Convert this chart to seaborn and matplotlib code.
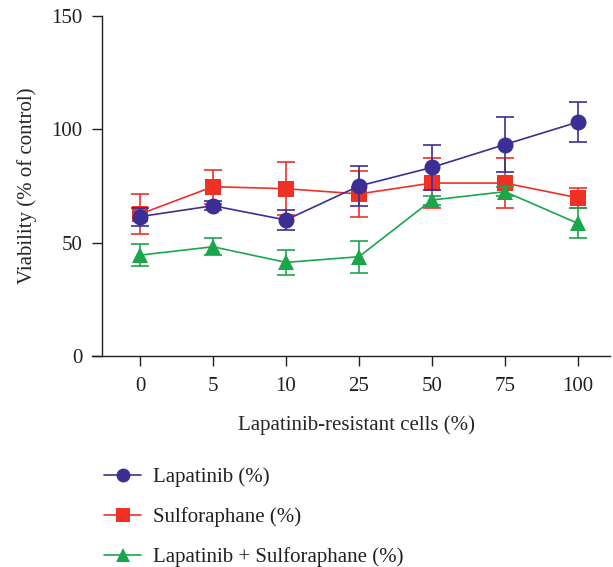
import numpy as np
import pandas as pd
import matplotlib
matplotlib.use("Agg")
import matplotlib.pyplot as plt
import seaborn as sns
from matplotlib.lines import Line2D

# Percentage of lapatinib-resistant cells in the mixed population
cells = ["0", "5", "10", "25", "50", "75", "100"]

# Mean viability (% of control) and error for each treatment
lapatinib = [61.5, 66.3, 60.0, 75.0, 83.2, 93.3, 103.2]
lapatinib_err = [4.0, 2.0, 4.2, 8.7, 10.0, 12.0, 8.7]

sulforaphane = [62.6, 74.7, 73.8, 71.5, 76.3, 76.3, 69.8]
sulforaphane_err = [8.8, 7.5, 11.8, 10.0, 11.0, 11.0, 4.5]

combo = [44.5, 48.2, 41.3, 43.8, 68.8, 72.5, 58.5]
combo_err = [5.0, 3.7, 5.6, 7.0, 2.0, 2.0, 6.6]

series_names = ["Lapatinib (%)", "Sulforaphane (%)", "Lapatinib + Sulforaphane (%)"]
colors = ["#3b2f95", "#ee3124", "#1ba64b"]
markers = ["o", "s", "^"]
msizes = [11.5, 11.5, 12]
zorders = [5, 3, 4]

frames = []
for name, vals, errs in zip(series_names, [lapatinib, sulforaphane, combo],
                            [lapatinib_err, sulforaphane_err, combo_err]):
    frames.append(pd.DataFrame({"pos": np.arange(len(cells)), "cells": cells,
                                "viability": vals, "err": errs, "treatment": name}))
df = pd.concat(frames, ignore_index=True)

sns.set_theme(style="ticks")
plt.rcParams["font.family"] = ["Liberation Serif", "DejaVu Serif"]
plt.rcParams["text.color"] = "#231f20"

FS = 15

fig = plt.figure(figsize=(6.13, 5.67), dpi=100)
ax = fig.add_axes([102 / 613, 1 - 356 / 567, 508 / 613, 340 / 567])

for name, c, m, ms, z in zip(series_names, colors, markers, msizes, zorders):
    sub = df[df["treatment"] == name]
    ax.errorbar(sub["pos"], sub["viability"], yerr=sub["err"], fmt="none",
                ecolor=c, elinewidth=1.2, capsize=6.5, capthick=1.2, zorder=z)
    sns.lineplot(data=sub, x="pos", y="viability", color=c, marker=m,
                 markersize=ms, markeredgewidth=0, linewidth=1.2, ax=ax,
                 zorder=z + 0.5, legend=False, errorbar=None)

ax.set_xlim(-0.52, 6.44)
ax.set_ylim(0, 150)
ax.set_yticks([0, 50, 100, 150])
ax.set_xticks(np.arange(len(cells)))
ax.set_xticklabels(cells)
ax.tick_params(axis="both", labelsize=FS, colors="#231f20", width=1.0, length=7)
ax.tick_params(axis="y", pad=7)
ax.tick_params(axis="x", pad=8)
sns.despine(ax=ax)
for s in ("left", "bottom"):
    ax.spines[s].set_linewidth(1.0)
    ax.spines[s].set_color("#231f20")
ax.spines["bottom"].set_bounds(-0.66, 6.44)

ax.set_xlabel("Lapatinib-resistant cells (%)", fontsize=FS, labelpad=14)
ax.set_ylabel("Viability (% of control)", fontsize=FS, labelpad=10)

handles = [Line2D([], [], color=c, marker=m, markersize=ms - 1.5, markeredgewidth=0,
                  linewidth=1.2) for c, m, ms in zip(colors, markers, msizes)]
fig.legend(handles, series_names, loc="upper left",
           bbox_to_anchor=(85 / 613, 1 - 449 / 567), frameon=False,
           fontsize=FS, handlelength=1.8, labelspacing=0.95, handletextpad=0.58)

fig.savefig("out.png", dpi=100)
